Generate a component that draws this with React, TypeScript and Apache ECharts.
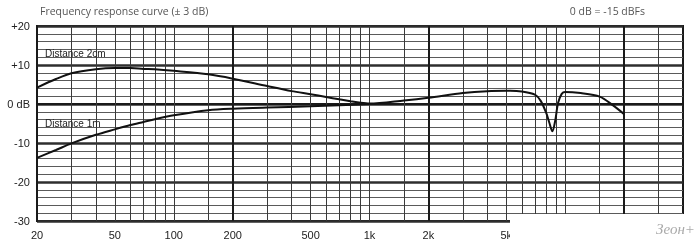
import React, { useEffect, useRef } from "react";
import * as echarts from "echarts";

// Frequencies (Hz) and levels (dB)
const freqs2cm = [20, 25, 30, 40, 50, 60, 70, 80, 100, 150, 200, 300, 400, 500, 600, 700, 800, 900, 1000, 1500, 2000, 3000, 4000, 5000, 6000, 7000, 7500, 8000, 8300, 8600, 8900, 9200, 9600, 10000, 12000, 15000, 17500, 20000];
const db2cm = [4.2, 6.4, 7.9, 8.9, 9.2, 9.2, 9.0, 8.9, 8.5, 7.6, 6.5, 4.6, 3.3, 2.5, 1.8, 1.2, 0.7, 0.3, 0.1, 0.9, 1.6, 2.8, 3.3, 3.4, 3.2, 2.4, 0.8, -2.3, -4.8, -7.0, -4.2, 0.3, 2.6, 3.1, 2.8, 1.9, -0.3, -2.6];

const freqs1m = [20, 25, 30, 40, 50, 60, 70, 80, 100, 150, 200, 300, 500, 700, 1000];
const db1m = [-13.8, -11.8, -10.1, -7.9, -6.5, -5.4, -4.6, -3.9, -2.9, -1.6, -1.2, -0.9, -0.6, -0.3, 0];

const xTickLabels = [20, 50, 100, 200, 500, 1000, 2000, 5000];
const gridFreqs = [30, 40, 50, 60, 70, 80, 90, 100, 150, 300, 400, 500, 600, 700, 800, 900, 1000, 1500, 3000, 4000, 5000, 6000, 7000, 8000, 9000, 10000, 15000, 30000];
const thickFreqs = [200, 2000, 20000];

const title = "Frequency response curve (± 3 dB)";
const refNote = "0 dB = -15 dBFs";
const label2cm = "Distance 2cm";
const label1m = "Distance 1m";
const watermark = "Зеон+";

export default function App() {
  const ref = useRef<HTMLDivElement>(null);
  useEffect(() => {
    if (!ref.current) return;
    const chart = echarts.init(ref.current, null, { renderer: "svg" });
    const thin = gridFreqs.map((f) => ({ xAxis: f, lineStyle: { color: "#3a3a3a", width: 1, type: "solid" } }));
    const thick = thickFreqs.map((f) => ({ xAxis: f, lineStyle: { color: "#1a1a1a", width: 2, type: "solid" } }));
    chart.setOption({
      animation: false,
      grid: { left: 37, right: 17, top: 26, bottom: 27, show: true, borderColor: "#1a1a1a", borderWidth: 2, backgroundColor: "transparent" },
      xAxis: {
        type: "log",
        logBase: 10,
        min: 20,
        max: 40000,
        splitLine: { show: false },
        axisTick: { show: false },
        axisLine: { show: true, lineStyle: { color: "#1a1a1a", width: 2 } },
        axisLabel: {
          customValues: xTickLabels,
          formatter: (v: number) => (v >= 1000 ? v / 1000 + "k" : String(v)),
          color: "#222",
          fontSize: 11,
          fontFamily: "Liberation Sans",
          margin: 8,
        },
      },
      yAxis: {
        type: "value",
        min: -30,
        max: 20,
        interval: 10,
        axisLine: { show: true, lineStyle: { color: "#1a1a1a", width: 2 } },
        axisTick: { show: false },
        axisLabel: {
          formatter: (v: number) => (v === 0 ? "0 dB" : v > 0 ? "+" + v : String(v)),
          color: "#222",
          fontSize: 11,
          fontFamily: "Liberation Sans",
          margin: 7,
        },
        splitLine: { show: true, lineStyle: { color: "#2e2e2e", width: 2.5 } },
        minorTick: { show: false, splitNumber: 5 },
        minorSplitLine: { show: true, lineStyle: { color: "#5a5a5a", width: 1 } },
      },
      series: [
        {
          type: "line",
          data: [],
          silent: true,
          markLine: {
            silent: true,
            symbol: ["none", "none"],
            label: { show: false },
            data: [...thin, ...thick],
          },
        },
        {
          name: label1m,
          type: "line",
          data: freqs1m.map((f, i) => [f, db1m[i]]),
          showSymbol: false,
          smooth: 0.3,
          lineStyle: { color: "#111", width: 2 },
          z: 5,
        },
        {
          name: label2cm,
          type: "line",
          data: freqs2cm.map((f, i) => [f, db2cm[i]]),
          showSymbol: false,
          smooth: 0.3,
          lineStyle: { color: "#111", width: 2 },
          z: 5,
        },
      ],
      graphic: [
        { type: "text", left: 40, top: 5, z: 100, style: { text: title, fill: "#555", fontSize: 10.5, fontFamily: "Open Sans" } },
        { type: "text", right: 55, top: 5, z: 100, style: { text: refNote, fill: "#555", fontSize: 10.5, fontFamily: "Open Sans" } },
        { type: "text", left: 45, top: 48, z: 100, style: { text: label2cm, fill: "#222", fontSize: 10, fontFamily: "Liberation Sans" } },
        { type: "text", left: 45, top: 118, z: 100, style: { text: label1m, fill: "#222", fontSize: 10, fontFamily: "Liberation Sans" } },
        { type: "rect", z: 100, shape: { x: 510, y: 214, width: 190, height: 34 }, style: { fill: "#fff" } },
        { type: "text", left: 656, top: 221, z: 101, style: { text: watermark, fill: "#aaa", fontSize: 15, fontStyle: "italic", fontFamily: "Liberation Serif" } },
      ],
    });
    return () => chart.dispose();
  }, []);
  return <div ref={ref} style={{ position: "fixed", left: 0, top: 0, width: 700, height: 248 }} />;
}
